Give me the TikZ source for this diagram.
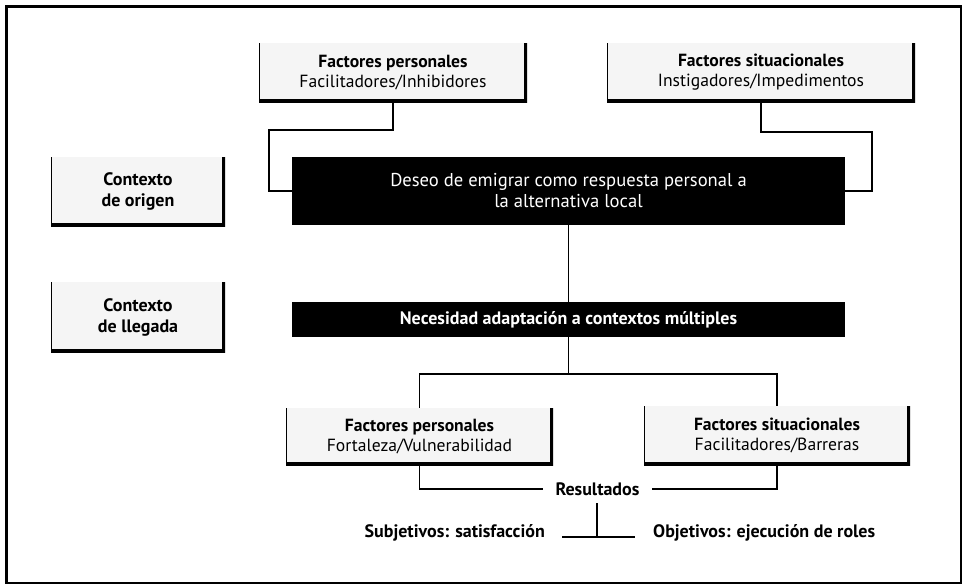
\documentclass[tikz,border=0pt]{standalone}
\usepackage{fontspec}
\setmainfont{PT Sans}
\begin{document}
\begin{tikzpicture}[x=1pt,y=-1pt,
  every node/.style={font=\fontsize{17.6}{20}\selectfont, align=center, inner sep=0pt},
  lightbox/.style={fill=black!4,
    path picture={
      \draw[line width=0.6pt] (path picture bounding box.north west) -- (path picture bounding box.south west);
      \draw[line width=6pt] (path picture bounding box.south west) -- (path picture bounding box.south east) -- (path picture bounding box.north east);
    }},
  darkbox/.style={fill=black, text=white},
  boldtext/.style={font=\fontsize{18}{21}\selectfont\bfseries},
  link/.style={line width=1.1pt},
  frame/.style={line width=2.8pt}
]
\useasboundingbox (0,0) rectangle (965,587);
\draw[frame] (6.5,6.5) rectangle (961,583);

% upper factor boxes
\node[lightbox, minimum width=268pt, minimum height=59pt] (pf1) at (393,72.5)
  {\textbf{Factores personales}\\Facilitadores/Inhibidores};
\node[lightbox, minimum width=308pt, minimum height=59pt] (sf1) at (761,72.5)
  {\textbf{Factores situacionales}\\Instigadores/Impedimentos};

% context labels
\node[lightbox, boldtext, minimum width=174pt, minimum height=69pt] (origen) at (138,191.5)
  {Contexto\\de origen};
\node[lightbox, boldtext, minimum width=174pt, minimum height=70pt] (llegada) at (138,317)
  {Contexto\\de llegada};

% central black boxes
\node[darkbox, font=\fontsize{18.6}{21}\selectfont, minimum width=553pt, minimum height=68pt] (deseo) at (568.5,191)
  {Deseo de emigrar como respuesta personal a\\la alternativa local};
\node[darkbox, boldtext, minimum width=553pt, minimum height=35pt] (nec) at (568.5,319.5)
  {Necesidad adaptación a contextos múltiples};

% lower factor boxes
\node[lightbox, minimum width=267pt, minimum height=57pt] (pf2) at (419.5,436.5)
  {\textbf{Factores personales}\\Fortaleza/Vulnerabilidad};
\node[lightbox, minimum width=266pt, minimum height=59pt] (sf2) at (777,435.5)
  {\textbf{Factores situacionales}\\Facilitadores/Barreras};

% outcomes
\node[boldtext, minimum width=109pt] (res) at (597.5,489) {Resultados};
\node[boldtext, anchor=east] (subj) at (545,533) {Subjetivos: satisfacción};
\node[boldtext, anchor=west] (obj) at (653,533) {Objetivos: ejecución de roles};

\coordinate (c1) at (269,130);
\coordinate (c2) at (872,132);
\coordinate (c3) at (568.5,374);
\coordinate (t1) at (597,503);
\coordinate (t2) at (597,537);
\coordinate (tl) at (562,537);
\coordinate (tr) at (635,537);

% connectors
\draw[link] (pf1.south) |- (c1) |- (deseo.west);
\draw[link] (sf1.south) |- (c2) |- (deseo.east);
\draw[link] (deseo.south) -- (nec.north);
\draw[link] (nec.south) -- (c3);
\draw[link] (pf2.north) |- (c3) -| (sf2.north);
\draw[link] (pf2.south) |- (res.west);
\draw[link] (sf2.south) |- (res.east);
\draw[link] (t1) -- (t2);
\draw[link] (tl) -- (tr);
\end{tikzpicture}
\end{document}
